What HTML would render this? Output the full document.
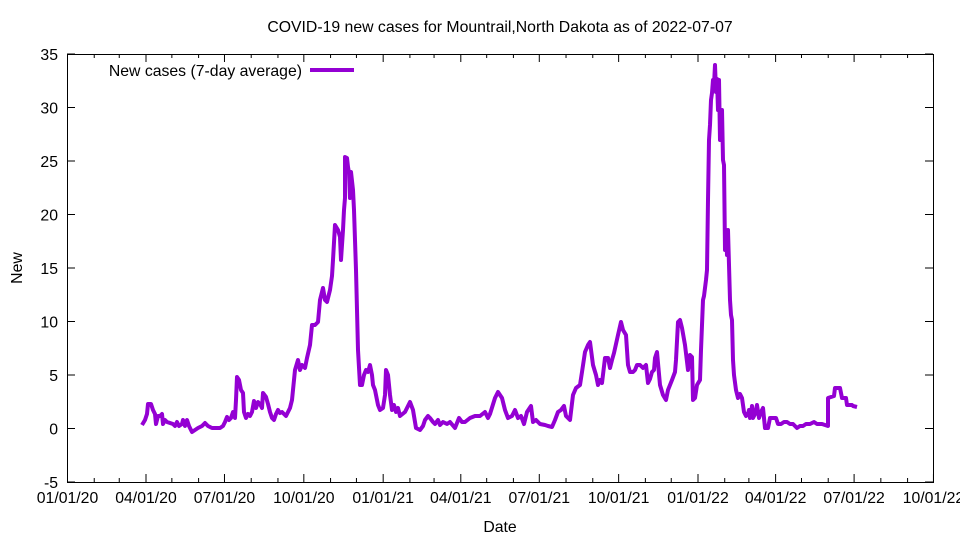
<!DOCTYPE html>
<html><head><meta charset="utf-8"><style>body{margin:0;background:#fff}svg{display:block}text{font-family:"Liberation Sans",sans-serif;font-size:15.8px;fill:#000}</style></head>
<body>
<svg width="960" height="540" viewBox="0 0 960 540" xmlns="http://www.w3.org/2000/svg">
<rect x="0" y="0" width="960" height="540" fill="#fff"/>
<g id="ticks" stroke="#000" stroke-width="1"></g>
<rect x="67.5" y="54.5" width="866" height="428" fill="none" stroke="#000" stroke-width="1"/>
<g id="labels"></g>
<text x="500" y="32" text-anchor="middle">COVID-19 new cases for Mountrail,North Dakota as of 2022-07-07</text>
<text x="500" y="532" text-anchor="middle">Date</text>
<text x="22" y="268" text-anchor="middle" transform="rotate(-90 22 268)">New</text>
<text x="302" y="76" text-anchor="end">New cases (7-day average)</text>
<line x1="310" y1="70" x2="354" y2="70" stroke="#9400d3" stroke-width="4"/>
<polyline fill="none" stroke="#9400d3" stroke-width="4" stroke-linejoin="round" points="142,425 145,420 147,414 148,404 151,404 153,410 155,414 156,424 158,416 160,416 162,414 163,424 165,420 167,422 170,423 173,424 175,426 177,422 179,426 182,424 183,420 185,426 187,420 189,426 192,432 195,430 198,428 202,426 205,423 208,426 212,428 216,428 220,428 223,426 225,422 227,417 229,420 231,418 233,412 235,418 236,400 237,377 239,380 241,390 243,393 244,412 246,418 248,414 250,416 252,412 254,401 256,408 258,402 260,404 262,408 263,393 266,397 268,404 270,412 272,418 274,420 276,414 278,410 280,413 282,412 284,414 286,416 288,412 290,408 292,400 295,370 298,360 300,370 302,365 305,368 307,358 310,345 312,325 315,325 318,322 320,300 323,288 325,300 327,302 330,290 332,276 333,260 335,225 338,230 340,237 341,260 343,230 344,210 345,198 345,157 347,158 348,167 349,173 350,198 351,172 353,190 354,210 356,270 358,350 360,385 362,385 364,375 366,370 368,372 370,365 372,375 373,385 375,390 377,400 378,405 380,410 383,408 385,395 386,370 388,375 390,395 392,410 394,405 396,412 398,408 400,416 405,412 410,402 413,410 416,428 420,430 423,426 425,420 428,416 430,418 433,422 435,424 438,420 440,425 443,422 447,424 450,422 455,428 459,418 462,422 465,422 470,418 475,416 480,416 485,412 488,418 490,414 495,398 498,392 502,398 505,410 508,418 512,416 515,410 518,418 521,416 524,424 527,412 531,406 533,422 536,420 540,424 545,425 548,426 552,427 555,420 558,412 561,410 564,406 566,416 570,420 573,395 576,388 580,385 582,372 585,352 588,345 590,342 593,365 596,375 598,385 600,380 602,383 605,358 608,358 610,368 612,360 614,353 618,335 621,322 623,330 626,335 628,365 630,372 633,372 635,370 637,365 640,365 643,368 646,365 648,383 650,379 652,372 654,370 655,358 657,352 660,385 663,395 666,400 668,390 672,380 675,372 676,360 678,322 680,320 682,328 685,345 688,370 690,355 692,357 693,400 695,398 697,385 700,380 701,350 703,300 704,296 706,280 707,270 708,200 709,140 710,125 711,100 712,93 713,80 714,85 715,65 716,92 717,79 718,110 719,80 720,140 721,140 722,110 723,160 724,165 725,250 726,230 727,255 728,230 729,265 730,300 731,315 732,320 733,360 734,375 736,390 738,398 740,394 742,398 743,405 744,412 746,416 748,414 749,410 750,418 751,414 752,406 753,418 755,414 757,405 759,418 761,412 763,408 765,428 768,428 770,418 773,418 776,418 778,424 781,424 784,422 787,422 790,424 793,424 797,428 800,426 803,426 806,424 810,424 814,422 817,424 822,424 828,426 828,398 834,396 835,388 840,388 842,398 846,398 847,405 852,405 853,406 857,407"/>
<script>
var t=document.getElementById('ticks'),l=document.getElementById('labels'),ns='http://www.w3.org/2000/svg';
function ln(a,b,c,d){var e=document.createElementNS(ns,'line');e.setAttribute('x1',a);e.setAttribute('y1',b);e.setAttribute('x2',c);e.setAttribute('y2',d);t.appendChild(e);}
function tx(x,y,s,an){var e=document.createElementNS(ns,'text');e.setAttribute('x',x);e.setAttribute('y',y);e.setAttribute('text-anchor',an);e.textContent=s;l.appendChild(e);}
for(var v=-5;v<=35;v+=5){var y=428.5-v*10.7;ln(67,y,75,y);ln(925,y,933,y);tx(58,y+6,String(v),'end');}
var md=[0,31,29,31,30,31,30,31,31,30,31,30,31,31,28,31,30,31,30,31,31,30,31,30,31,31,28,31,30,31,30,31,31,30];
var d=0,labs=['01/01/20','04/01/20','07/01/20','10/01/20','01/01/21','04/01/21','07/01/21','10/01/21','01/01/22','04/01/22','07/01/22','10/01/22'];
for(var m=0;m<=33;m++){d+=md[m];var x=67.5+d*0.8625;if(m%3==0){ln(x,482,x,474);ln(x,54,x,62);tx(x,503,labs[m/3],'middle');}else{ln(x,482,x,478);ln(x,54,x,58);}}
</script>
</svg>
</body></html>
